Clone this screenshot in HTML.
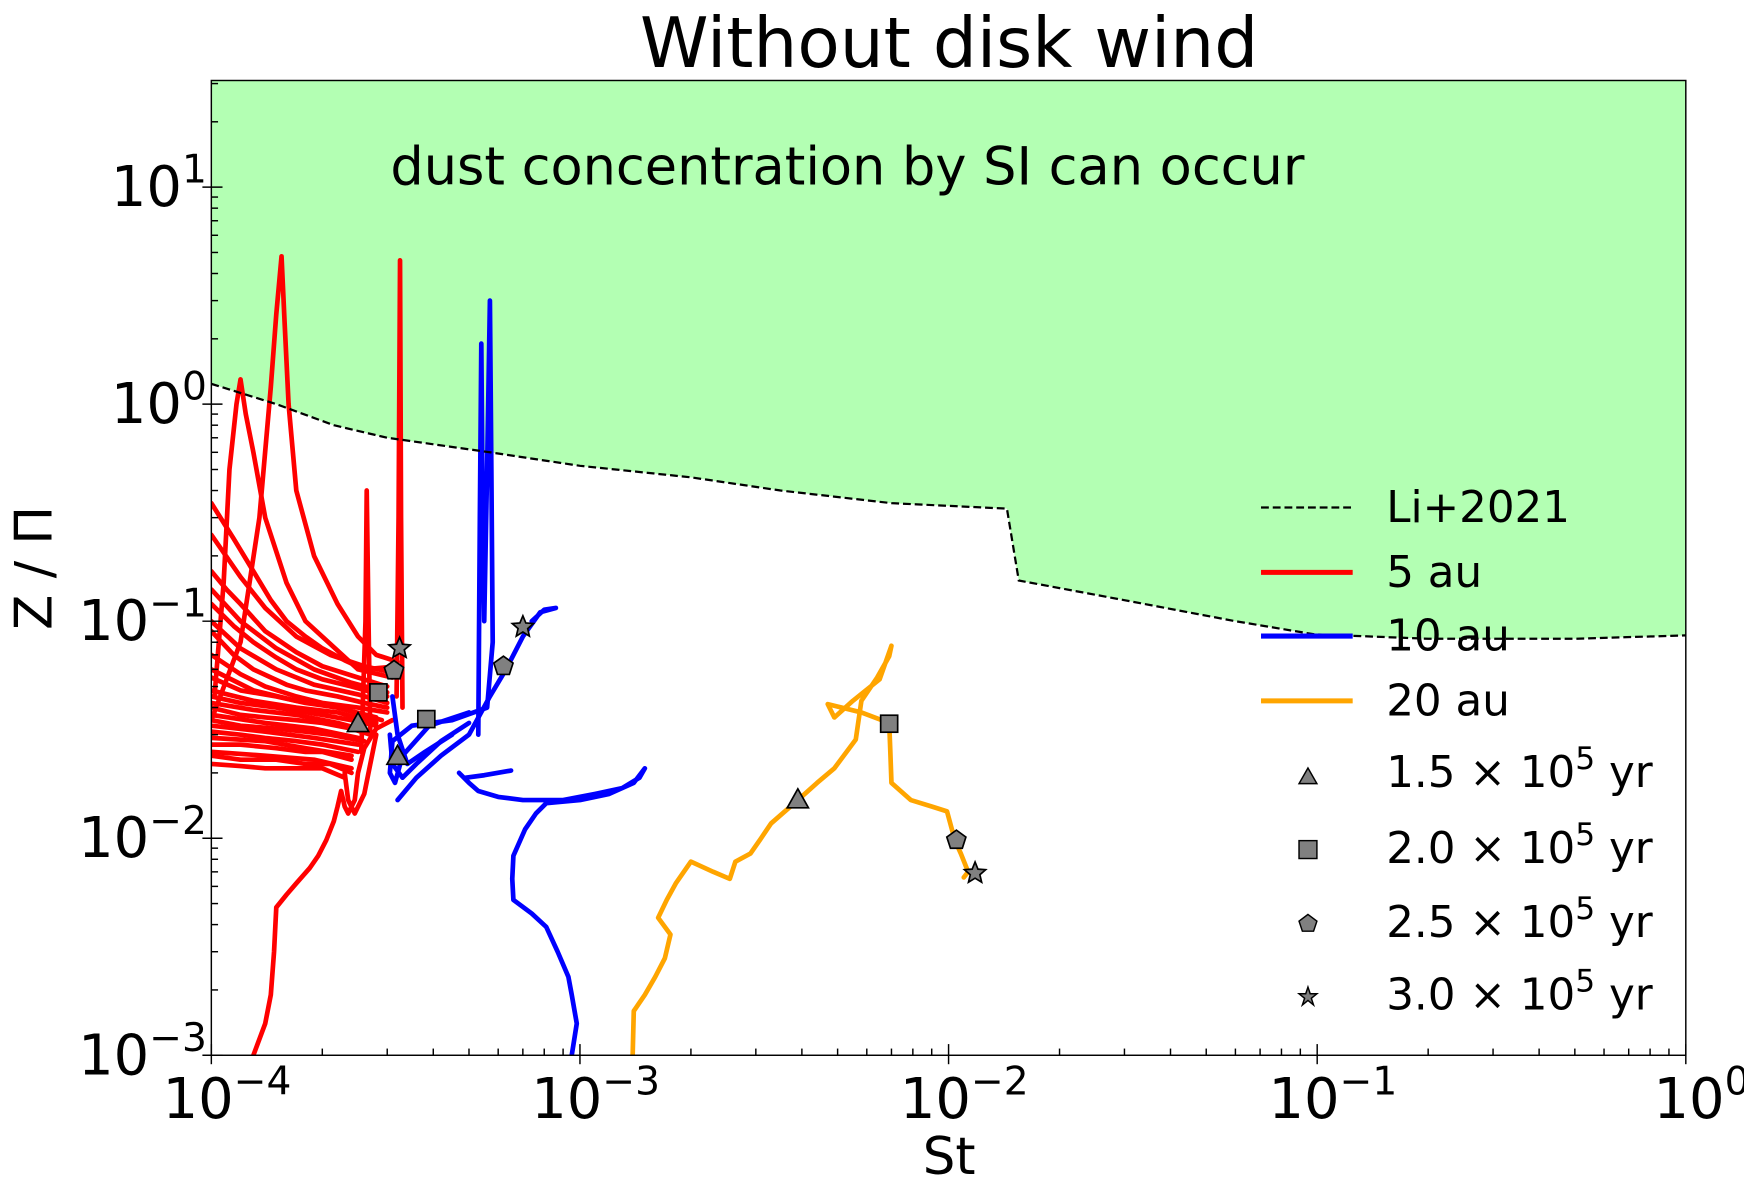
<!DOCTYPE html>
<html><head><meta charset="utf-8"><style>
html,body{margin:0;padding:0;background:#fff;}
svg{display:block;font-family:"DejaVu Sans","Liberation Sans",sans-serif;}
</style></head><body>
<svg id="chart" width="1744" height="1195" viewBox="0 0 1560 1069" xmlns="http://www.w3.org/2000/svg">
<g id="plot"></g>
</svg>
<script>
// ---- data ----
const xTicks = [1e-4, 1e-3, 1e-2, 1e-1, 1];
const xTickExp = ["−4", "−3", "−2", "−1", "0"];
const yTicks = [1e-3, 1e-2, 1e-1, 1, 10];
const yTickExp = ["−3", "−2", "−1", "0", "1"];
const liSt = [1e-4, 1.5e-4, 2.15e-4, 3e-4, 5.7e-4, 1e-3, 2e-3, 3.5e-3, 7e-3, 0.0144, 0.0155, 0.03, 0.06, 0.098, 0.2, 0.5, 1];
const liZ = [1.24, 1.0, 0.8, 0.7, 0.6, 0.52, 0.46, 0.4, 0.35, 0.33, 0.154, 0.125, 0.1, 0.087, 0.083, 0.083, 0.086];
const red5au = [
 [[1.3e-4,1e-3],[1.4e-4,1.4e-3],[1.45e-4,1.9e-3],[1.48e-4,3e-3],[1.5e-4,4.8e-3],[1.6e-4,5.5e-3],[1.7e-4,6.2e-3],[1.85e-4,7.3e-3],[1.95e-4,8.3e-3],[2.05e-4,9.8e-3],[2.15e-4,1.2e-2],[2.2e-4,1.4e-2],[2.25e-4,1.65e-2],[2.3e-4,1.4e-2],[2.35e-4,1.3e-2],[2.45e-4,1.5e-2],[2.5e-4,2e-2],[2.6e-4,2.6e-2],[2.8e-4,3.2e-2],[3.1e-4,3.5e-2]],
 [[1e-4,0.035],[1.2e-4,0.08],[1.35e-4,0.3],[1.45e-4,1.2],[1.5e-4,2.6],[1.55e-4,4.8],[1.58e-4,2.4],[1.62e-4,1.0],[1.7e-4,0.4],[1.9e-4,0.2],[2.2e-4,0.12],[2.5e-4,0.085],[2.8e-4,0.07],[3.2e-4,0.065]],
 [[1.02e-4,0.045],[1.08e-4,0.15],[1.12e-4,0.5],[1.17e-4,1.0],[1.2e-4,1.3],[1.24e-4,0.9],[1.3e-4,0.6],[1.4e-4,0.3],[1.6e-4,0.15],[1.8e-4,0.1],[2.5e-4,0.06],[3.1e-4,0.055]],
 [[3.18e-4,0.045],[3.22e-4,0.3],[3.25e-4,4.6],[3.27e-4,0.3],[3.3e-4,0.04]],
 [[2.55e-4,0.025],[2.62e-4,0.1],[2.64e-4,0.4],[2.67e-4,0.1],[2.7e-4,0.03]],
 [[1e-4,0.35],[1.15e-4,0.24],[1.3e-4,0.17],[1.45e-4,0.125],[1.6e-4,0.1],[1.8e-4,0.085],[2e-4,0.075],[2.3e-4,0.066],[2.6e-4,0.06],[3.2e-4,0.062]],
 [[1e-4,0.25],[1.2e-4,0.16],[1.4e-4,0.115],[1.7e-4,0.085],[2.1e-4,0.07],[2.6e-4,0.062],[3.1e-4,0.058]],
 [[1e-4,0.17],[1.1e-4,0.14],[1.2e-4,0.12],[1.4e-4,0.09],[1.7e-4,0.072],[2e-4,0.062],[2.5e-4,0.055],[3e-4,0.05]],
 [[1e-4,0.14],[1.2e-4,0.1],[1.5e-4,0.075],[1.9e-4,0.06],[2.4e-4,0.052],[3e-4,0.047]],
 [[1e-4,0.12],[1.15e-4,0.095],[1.3e-4,0.08],[1.5e-4,0.068],[1.7e-4,0.06],[2e-4,0.054],[2.4e-4,0.05],[3e-4,0.045]],
 [[1e-4,0.1],[1.2e-4,0.075],[1.5e-4,0.06],[1.9e-4,0.051],[2.5e-4,0.046],[3e-4,0.042]],
 [[1e-4,0.09],[1.15e-4,0.07],[1.3e-4,0.06],[1.6e-4,0.051],[1.8e-4,0.048],[2.2e-4,0.045],[2.6e-4,0.042],[3e-4,0.04]],
 [[1e-4,0.07],[1.2e-4,0.057],[1.4e-4,0.05],[1.7e-4,0.045],[2e-4,0.042],[2.5e-4,0.04],[3e-4,0.038]],
 [[1e-4,0.06],[1.3e-4,0.048],[1.7e-4,0.043],[2.2e-4,0.04],[2.8e-4,0.036]],
 [[1e-4,0.055],[1.2e-4,0.048],[1.5e-4,0.045],[1.8e-4,0.042],[2.2e-4,0.04],[2.9e-4,0.035]],
 [[1e-4,0.048],[1.3e-4,0.043],[1.7e-4,0.04],[2.2e-4,0.038],[2.8e-4,0.034]],
 [[1e-4,0.045],[1.2e-4,0.042],[1.5e-4,0.04],[2e-4,0.037],[2.4e-4,0.035],[2.8e-4,0.033]],
 [[1e-4,0.042],[1.3e-4,0.039],[1.7e-4,0.037],[2.2e-4,0.034],[2.7e-4,0.031]],
 [[1e-4,0.04],[1.2e-4,0.037],[1.4e-4,0.036],[1.7e-4,0.035],[2e-4,0.034],[2.4e-4,0.032],[2.7e-4,0.03]],
 [[1e-4,0.037],[1.4e-4,0.034],[1.9e-4,0.032],[2.5e-4,0.029]],
 [[1e-4,0.035],[1.2e-4,0.033],[1.5e-4,0.032],[1.8e-4,0.031],[2.1e-4,0.03],[2.6e-4,0.028]],
 [[1e-4,0.033],[1.4e-4,0.031],[1.9e-4,0.029],[2.5e-4,0.027]],
 [[1e-4,0.031],[1.2e-4,0.03],[1.4e-4,0.029],[1.7e-4,0.028],[2e-4,0.027],[2.5e-4,0.025]],
 [[1e-4,0.029],[1.4e-4,0.028],[1.8e-4,0.026],[2.4e-4,0.024]],
 [[1e-4,0.027],[1.2e-4,0.027],[1.5e-4,0.026],[1.8e-4,0.025],[2e-4,0.025],[2.4e-4,0.023]],
 [[1e-4,0.025],[1.4e-4,0.024],[1.9e-4,0.023],[2.4e-4,0.021]],
 [[1e-4,0.024],[1.2e-4,0.023],[1.5e-4,0.023],[1.8e-4,0.022],[2.1e-4,0.022],[2.4e-4,0.02]],
 [[1e-4,0.022],[1.2e-4,0.0215],[1.4e-4,0.021],[1.7e-4,0.021],[2e-4,0.021],[2.3e-4,0.019]],
 [[2.3e-4,0.02],[2.35e-4,0.015],[2.45e-4,0.013],[2.6e-4,0.016],[2.7e-4,0.022],[2.8e-4,0.03]]
];
const blue10au = [
 [[9.5e-4,1e-3],[9.8e-4,1.4e-3],[9.5e-4,1.9e-3],[9.3e-4,2.3e-3],[8.7e-4,3e-3],[8.1e-4,3.9e-3],[7.4e-4,4.5e-3],[6.6e-4,5.2e-3],[6.55e-4,6.5e-3],[6.6e-4,8.3e-3],[7.1e-4,1.1e-2],[7.6e-4,1.3e-2],[8.1e-4,1.45e-2],[1.0e-3,1.5e-2],[1.2e-3,1.6e-2],[1.4e-3,1.8e-2],[1.5e-3,2.1e-2],[1.45e-3,1.9e-2],[1.3e-3,1.7e-2],[1.1e-3,1.6e-2],[9e-4,1.5e-2],[7e-4,1.5e-2],[6e-4,1.55e-2],[5.3e-4,1.65e-2],[5e-4,1.8e-2],[4.7e-4,2e-2]],
 [[4.9e-4,1.9e-2],[5.5e-4,1.95e-2],[6.5e-4,2.05e-2]],
 [[3.2e-4,1.5e-2],[3.6e-4,1.9e-2],[4.2e-4,2.4e-2],[5e-4,3e-2],[5.7e-4,4.5e-2],[6.3e-4,6e-2],[7e-4,8.5e-2],[7.8e-4,0.11],[8.6e-4,0.115],[8e-4,0.113],[7.4e-4,0.1]],
 [[5.3e-4,0.03],[5.35e-4,0.3],[5.4e-4,1.9],[5.45e-4,0.3],[5.5e-4,0.1],[5.6e-4,0.5],[5.7e-4,3.0],[5.75e-4,0.5],[5.8e-4,0.08],[5.6e-4,0.04],[4.5e-4,0.035],[3.5e-4,0.033],[3.1e-4,0.028],[3.05e-4,0.02],[3.15e-4,0.018],[3.3e-4,0.024],[3.9e-4,0.033],[5e-4,0.038]],
 [[3.1e-4,0.045],[3.2e-4,0.03],[3.4e-4,0.022],[3.8e-4,0.025],[4.5e-4,0.03]],
 [[3.05e-4,0.03],[3.1e-4,0.022],[3.3e-4,0.019],[3.6e-4,0.022],[4.2e-4,0.028],[5e-4,0.034]]
];
const orange20au = [
 [[1.39e-3,1e-3],[1.4e-3,1.6e-3],[1.5e-3,1.9e-3],[1.6e-3,2.3e-3],[1.7e-3,2.8e-3],[1.76e-3,3.6e-3],[1.63e-3,4.3e-3],[1.72e-3,5.2e-3],[1.82e-3,6.2e-3],[2e-3,7.8e-3],[2.3e-3,7e-3],[2.55e-3,6.5e-3],[2.64e-3,7.8e-3],[2.9e-3,8.5e-3],[3.1e-3,1e-2],[3.3e-3,1.17e-2],[3.9e-3,1.5e-2],[4.4e-3,1.8e-2],[4.9e-3,2.1e-2],[5.6e-3,2.85e-2],[5.8e-3,4.3e-2],[6.4e-3,5.5e-2],[6.9e-3,6.9e-2],[7e-3,7.7e-2],[6.5e-3,5.4e-2],[5.5e-3,4.3e-2],[4.9e-3,3.6e-2],[4.7e-3,4.15e-2],[5.8e-3,3.8e-2],[6.9e-3,3.4e-2],[6.95e-3,2.5e-2],[7e-3,1.8e-2],[7.9e-3,1.5e-2],[9e-3,1.4e-2],[9.9e-3,1.33e-2],[1.04e-2,9.8e-3],[1.08e-2,8.5e-3],[1.13e-2,7e-3],[1.1e-2,6.6e-3]]
];
const triSt = [2.5e-4, 3.2e-4, 3.9e-3], triZ = [0.0337, 0.0238, 0.015];
const sqSt = [2.84e-4, 3.83e-4, 6.9e-3], sqZ = [0.047, 0.0354, 0.0337];
const pentSt = [3.13e-4, 6.2e-4, 1.05e-2], pentZ = [0.0592, 0.062, 9.8e-3];
const starSt = [3.24e-4, 7e-4, 1.18e-2], starZ = [0.075, 0.094, 6.9e-3];

// ---- axes ----
const L=189,R=1508,T=72,B=944;
const xlo=-4,xhi=0,ylo=-3,yhi=Math.log10(31);
const X=v=>L+(Math.log10(v)-xlo)/(xhi-xlo)*(R-L);
const Y=v=>B-(Math.log10(v)-ylo)/(yhi-ylo)*(B-T);
const NS="http://www.w3.org/2000/svg";
const g=document.getElementById('plot');
function el(tag,attrs,parent){const e=document.createElementNS(NS,tag);for(const k in attrs)e.setAttribute(k,attrs[k]);(parent||g).appendChild(e);return e;}

const defs=el('defs',{});
const cp=el('clipPath',{id:'clip'},defs);
el('rect',{x:L,y:T,width:R-L,height:B-T},cp);

let d='M'+L+','+T+' L'+R+','+T;
for(let i=liSt.length-1;i>=0;i--) d+=' L'+X(liSt[i]).toFixed(1)+','+Y(liZ[i]).toFixed(1);
d+=' Z';
const fill=el('path',{d:d,fill:'#b3ffb3','clip-path':'url(#clip)'});



const region=el('text',{x:758,y:165,'font-size':47,'text-anchor':'middle',fill:'#000'});
region.textContent='dust concentration by SI can occur';



function line(pts,color,name){
  const p=el('path',{d:pts.map((q,i)=>(i?'L':'M')+X(q[0]).toFixed(1)+','+Y(q[1]).toFixed(1)).join(' '),fill:'none',stroke:color,'stroke-width':4.2,'stroke-linejoin':'round','stroke-linecap':'round','clip-path':'url(#clip)'});
  
  
}
red5au.forEach(c=>line(c,'#ff0000','track-5au'));
blue10au.forEach(c=>line(c,'#0000ff','track-10au'));
orange20au.forEach(c=>line(c,'#ffa500','track-20au'));

const li=el('path',{d:liSt.map((s,i)=>(i?'L':'M')+X(s).toFixed(1)+','+Y(liZ[i]).toFixed(1)).join(' '),fill:'none',stroke:'#000','stroke-width':2,'stroke-dasharray':'7,3.5','clip-path':'url(#clip)'});



function shape(type,cx,cy,s){
  if(type==='tri') return el('path',{d:`M${cx},${cy-s} L${cx+s*0.95},${cy+s*0.7} L${cx-s*0.95},${cy+s*0.7} Z`});
  if(type==='sq') return el('rect',{x:cx-s*0.8,y:cy-s*0.8,width:s*1.6,height:s*1.6});
  let pts=[];const n=type==='pent'?5:10;
  for(let i=0;i<n;i++){const a=-Math.PI/2+i*2*Math.PI/n;const r=type==='pent'?s:(i%2?s*0.45:s);pts.push((cx+r*Math.cos(a)).toFixed(1)+','+(cy+r*Math.sin(a)).toFixed(1));}
  return el('polygon',{points:pts.join(' ')});
}
function markers(type,xs,ys,s,name){
  xs.forEach((v,i)=>{const m=shape(type,X(v),Y(ys[i]),s);m.setAttribute('fill','#808080');m.setAttribute('stroke','#000');m.setAttribute('stroke-width',1.5);
    
    });
}
markers('tri',triSt,triZ,10,'marker-1.5e5yr');
markers('sq',sqSt,sqZ,9.5,'marker-2.0e5yr');
markers('pent',pentSt,pentZ,9,'marker-2.5e5yr');
markers('star',starSt,starZ,10,'marker-3.0e5yr');

const fr=el('rect',{x:L,y:T,width:R-L,height:B-T,fill:'none',stroke:'#000','stroke-width':1.3});



for(let e=xlo;e<xhi;e++)for(let k=1;k<10;k++){const x=X(k*Math.pow(10,e));const len=k===1?10:6;el('line',{x1:x,x2:x,y1:B-len,y2:k===1?B+8:B,stroke:'#000','stroke-width':1.3});}
el('line',{x1:R,x2:R,y1:B-10,y2:B+8,stroke:'#000','stroke-width':1.3});
for(let e=ylo;e<2;e++)for(let k=1;k<10;k++){const v=k*Math.pow(10,e);if(v>31)break;const y=Y(v);const len=k===1?10:6;el('line',{x1:k===1?L-8:L,x2:L+len,y1:y,y2:y,stroke:'#000','stroke-width':1.3});}

xTicks.forEach((v,i)=>{const t=el('text',{x:X(v)+14,y:B+56,'font-size':50,'text-anchor':'middle'});
  t.innerHTML='10<tspan dy="-21" font-size="35">'+xTickExp[i]+'</tspan>';
  
  });
yTicks.forEach((v,i)=>{const t=el('text',{x:L-4,y:Y(v)+17,'font-size':50,'text-anchor':'end'});
  t.innerHTML='10<tspan dy="-21" font-size="35">'+yTickExp[i]+'</tspan>';
  
  });
</script>
<svg style="position:absolute;left:0;top:0" width="1744" height="1195" viewBox="0 0 1560 1069" xmlns="http://www.w3.org/2000/svg" font-family="DejaVu Sans, Liberation Sans, sans-serif">
<text x="849" y="60" font-size="62" text-anchor="middle">Without disk wind</text>
<text x="849" y="1050" font-size="46" text-anchor="middle">St</text>
<text transform="translate(46,508) rotate(-90)" font-size="46" text-anchor="middle">Z / Π</text>
<g font-size="39">
 <g><line x1="1128" x2="1210" y1="454" y2="454" stroke="#000" stroke-width="2" stroke-dasharray="7,3.5"/><text x="1240" y="467">Li+2021</text></g>
 <g><line x1="1128" x2="1210" y1="512" y2="512" stroke="#ff0000" stroke-width="4.5"/><text x="1240" y="525">5 au</text></g>
 <g><line x1="1128" x2="1210" y1="569" y2="569" stroke="#0000ff" stroke-width="4.5"/><text x="1240" y="582">10 au</text></g>
 <g><line x1="1128" x2="1210" y1="627" y2="627" stroke="#ffa500" stroke-width="4.5"/><text x="1240" y="640">20 au</text></g>
 <g><path d="M1170,687 L1178,701 L1162,701 Z" fill="#808080" stroke="#000" stroke-width="1.3"/><text x="1240" y="704">1.5 × 10<tspan dy="-16" font-size="28">5</tspan><tspan dy="16"> yr</tspan></text></g>
 <g><rect x="1162" y="752" width="16" height="16" fill="#808080" stroke="#000" stroke-width="1.3"/><text x="1240" y="772">2.0 × 10<tspan dy="-16" font-size="28">5</tspan><tspan dy="16"> yr</tspan></text></g>
 <g><polygon points="1170,818 1178,824 1175,833 1165,833 1162,824" fill="#808080" stroke="#000" stroke-width="1.3"/><text x="1240" y="838">2.5 × 10<tspan dy="-16" font-size="28">5</tspan><tspan dy="16"> yr</tspan></text></g>
 <g><polygon points="1170,883 1172,889 1178,889 1173,893 1175,899 1170,895 1165,899 1167,893 1162,889 1168,889" fill="#808080" stroke="#000" stroke-width="1.3"/><text x="1240" y="903">3.0 × 10<tspan dy="-16" font-size="28">5</tspan><tspan dy="16"> yr</tspan></text></g>
</g>
</svg>
</body></html>
